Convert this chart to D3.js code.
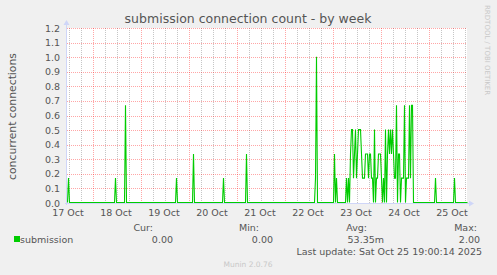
<!DOCTYPE html>
<html>
<head>
<meta charset="utf-8">
<script src="https://cdn.jsdelivr.net/npm/d3@7"></script>
<style>
  html, body { margin: 0; padding: 0; background: #f0f0f0; }
  svg { display: block; font-family: "DejaVu Sans", sans-serif; }
</style>
</head>
<body>
<div id="chart"></div>
<script>
// graph window: 30 minute slots from start to end
const startTime = new Date(Date.UTC(2025, 9, 17, 11, 0));
const endTime = new Date(Date.UTC(2025, 9, 25, 19, 0));
const slotCount = 400;

// non-zero half-hour averages (slot index from start, value); everything else is 0
const spikeSlots = [
    1, 48, 58, 109, 126, 156, 179, 248, 249, 267, 269, 279,
    281, 283, 284, 285, 286, 287, 288, 289, 290, 291, 292, 293, 294, 295, 296, 297,
    298, 299, 300, 301, 302, 303, 304, 305, 307, 309, 310, 311, 312, 313, 314, 316,
    318, 320, 321, 322, 323, 324, 325, 326, 327, 328, 329, 331, 332, 334, 335, 336,
    337, 339, 340, 341, 342, 343, 344, 345, 368, 387
];
const spikeValues = [
    0.167, 0.167, 0.667, 0.167, 0.333, 0.167, 0.333, 0.167, 1.0, 0.333, 0.167, 0.167,
    0.167, 0.333, 0.5, 0.5, 0.167, 0.333, 0.5, 0.167, 0.333, 0.5, 0.5, 0.5, 0.333, 0.167, 0.167, 0.167,
    0.333, 0.333, 0.333, 0.167, 0.333, 0.333, 0.167, 0.167, 0.5, 0.167, 0.167, 0.333, 0.333, 0.333, 0.167, 0.167,
    0.5, 0.333, 0.5, 0.333, 0.5, 0.333, 0.5, 0.333, 0.167, 0.167, 0.667, 0.333, 0.333, 0.167, 0.167, 0.167,
    0.667, 0.167, 0.167, 0.167, 0.667, 0.167, 0.667, 0.667, 0.167, 0.167
];

const yTicks = [0, 0.1, 0.2, 0.3, 0.4, 0.5, 0.6, 0.7, 0.8, 0.9, 1.0, 1.1, 1.2];
const dayLabels = ["17 Oct", "18 Oct", "19 Oct", "20 Oct", "21 Oct", "22 Oct", "23 Oct", "24 Oct", "25 Oct"];

const legendName = "submission";
const legendHeads = ["Cur:", "Min:", "Avg:", "Max:"];
const legendValues = ["0.00", "0.00", "53.35m", "2.00"];

const width = 497, height = 275;
const plot = { left: 67, right: 467, top: 28, bottom: 203 };
const green = "#00cc00";
const axisColor = "#cfd6f8";
const fontColor = "#555";

const series = [];
for (let i = 0; i <= slotCount; i++) {
    const k = spikeSlots.indexOf(i);
    series.push({ date: new Date(startTime.getTime() + i * 1800000), value: k >= 0 ? spikeValues[k] : 0 });
}

const x = d3.scaleUtc().domain([startTime, endTime]).range([plot.left, plot.right]);
const y = d3.scaleLinear().domain([0, 1.2]).range([plot.bottom, plot.top]);

const svg = d3.select("#chart").append("svg")
    .attr("width", width)
    .attr("height", height);

svg.append("rect").attr("width", width).attr("height", height).attr("fill", "#f0f0f0");
svg.append("rect")
    .attr("x", plot.left).attr("y", plot.top)
    .attr("width", plot.right - plot.left).attr("height", plot.bottom - plot.top)
    .attr("fill", "#fff");

// minor grid every 6 hours, major at midnight
const sixHours = d3.utcHour.every(6).range(startTime, endTime);
svg.append("g").selectAll("line")
    .data(sixHours)
    .join("line")
    .attr("x1", d => Math.round(x(d)) + 0.5)
    .attr("x2", d => Math.round(x(d)) + 0.5)
    .attr("y1", plot.top)
    .attr("y2", plot.bottom)
    .attr("stroke", d => d.getUTCHours() === 0 ? "rgba(255,0,0,0.35)" : "rgba(128,128,128,0.45)")
    .attr("stroke-dasharray", "1,1");

svg.append("g").selectAll("line")
    .data(yTicks.slice(1))
    .join("line")
    .attr("x1", plot.left)
    .attr("x2", plot.right)
    .attr("y1", d => Math.round(y(d)) + 0.5)
    .attr("y2", d => Math.round(y(d)) + 0.5)
    .attr("stroke", "rgba(255,0,0,0.35)")
    .attr("stroke-dasharray", "1,1");

// axes with arrows
svg.append("line")
    .attr("x1", plot.left - 0.5).attr("x2", plot.left - 0.5)
    .attr("y1", plot.bottom + 2).attr("y2", plot.top - 4)
    .attr("stroke", axisColor);
svg.append("path")
    .attr("d", `M${plot.left - 3.5},${plot.top - 3} L${plot.left + 2.5},${plot.top - 3} L${plot.left - 0.5},${plot.top - 8} Z`)
    .attr("fill", axisColor);
svg.append("line")
    .attr("x1", plot.left - 2).attr("x2", plot.right + 4)
    .attr("y1", plot.bottom + 0.5).attr("y2", plot.bottom + 0.5)
    .attr("stroke", axisColor);
svg.append("path")
    .attr("d", `M${plot.right + 2},${plot.bottom - 2.5} L${plot.right + 2},${plot.bottom + 3.5} L${plot.right + 7},${plot.bottom + 0.5} Z`)
    .attr("fill", axisColor);

// y tick labels
svg.append("g").selectAll("text")
    .data(yTicks)
    .join("text")
    .attr("x", plot.left - 7)
    .attr("y", d => y(d) + 3.5)
    .attr("text-anchor", "end")
    .attr("font-size", 9.5)
    .attr("fill", fontColor)
    .text(d => d.toFixed(1));

// x tick labels at noon
const noons = d3.utcDay.range(d3.utcDay.floor(startTime), endTime).map(d => d3.utcHour.offset(d, 12));
svg.append("g").selectAll("text")
    .data(noons)
    .join("text")
    .attr("x", d => x(d) - 1)
    .attr("y", plot.bottom + 13)
    .attr("text-anchor", "middle")
    .attr("font-size", 9.5)
    .attr("fill", fontColor)
    .text((d, i) => dayLabels[i]);

// series
const line = d3.line()
    .x(d => x(d.date) + 0.5)
    .y(d => y(d.value) - 0.5);

svg.append("path")
    .datum(series)
    .attr("fill", "none")
    .attr("stroke", green)
    .attr("stroke-width", 1.1)
    .attr("d", line);

// title and labels
svg.append("text")
    .attr("x", 248).attr("y", 23)
    .attr("text-anchor", "middle")
    .attr("font-size", 12.5)
    .attr("fill", fontColor)
    .text("submission connection count - by week");

svg.append("text")
    .attr("transform", `translate(16,${(plot.top + plot.bottom) / 2 + 1}) rotate(-90)`)
    .attr("text-anchor", "middle")
    .attr("font-size", 10.8)
    .attr("fill", fontColor)
    .text("concurrent connections");

svg.append("text")
    .attr("transform", "translate(485,5) rotate(90)")
    .attr("font-size", 7)
    .attr("fill", "#c8c8c8")
    .text("RRDTOOL / TOBI OETIKER");

// legend
svg.append("rect")
    .attr("x", 14).attr("y", 236)
    .attr("width", 6).attr("height", 6)
    .attr("fill", green);
svg.append("text")
    .attr("x", 20).attr("y", 243)
    .attr("font-size", 9.5)
    .attr("fill", fontColor)
    .text(legendName);

const headX = [153, 259, 367, 477];
const valueX = [173, 273, 384, 480];
svg.append("g").selectAll("text")
    .data(legendHeads)
    .join("text")
    .attr("x", (d, i) => headX[i])
    .attr("y", 231)
    .attr("text-anchor", "end")
    .attr("font-size", 9.5)
    .attr("fill", fontColor)
    .text(d => d);
svg.append("g").selectAll("text")
    .data(legendValues)
    .join("text")
    .attr("x", (d, i) => valueX[i])
    .attr("y", 243)
    .attr("text-anchor", "end")
    .attr("font-size", 9.5)
    .attr("fill", fontColor)
    .text(d => d);

svg.append("text")
    .attr("x", 482).attr("y", 255)
    .attr("text-anchor", "end")
    .attr("font-size", 9.5)
    .attr("fill", fontColor)
    .text("Last update: Sat Oct 25 19:00:14 2025");

svg.append("text")
    .attr("x", 248).attr("y", 267)
    .attr("text-anchor", "middle")
    .attr("font-size", 7.5)
    .attr("fill", "#c8c8c8")
    .text("Munin 2.0.76");
</script>
</body>
</html>
